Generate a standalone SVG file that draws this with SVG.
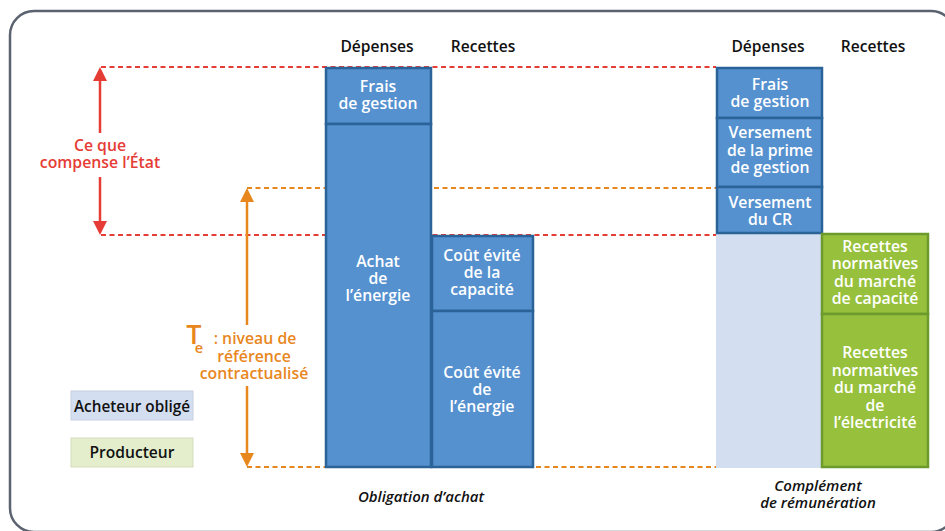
<svg xmlns="http://www.w3.org/2000/svg" width="945" height="531" viewBox="0 0 945 531">
<style>
.frame{fill:#fff;stroke:#5b6270;stroke-width:2.5}
.blue{fill:#5591cf;stroke:#2b6399;stroke-width:2.5}
.green{fill:#97c13c;stroke:#6c9a2c;stroke-width:2.5}
.light{fill:#d3def0}
text{font-family:"Open Sans","Noto Sans",sans-serif;font-weight:600;text-anchor:middle}
.wt{font-size:15.8px;fill:#fff}
.hd{font-size:15.6px;fill:#111}
.it{font-size:15px;font-style:italic;fill:#111}
.red{font-size:15.8px;fill:#e63c36}
.org{font-size:15.8px;fill:#e8871e}
.rdash{stroke:#e63c36;stroke-width:2;stroke-dasharray:5 3.5;fill:none}
.odash{stroke:#e8871e;stroke-width:2;stroke-dasharray:5 3.5;fill:none}
.rline{stroke:#e63c36;stroke-width:2.5;fill:none}
.oline{stroke:#e8871e;stroke-width:2.5;fill:none}
</style>
<rect class="frame" x="10" y="11" width="945" height="521" rx="24"/>
<g id="connectors">
<line class="rdash" x1="101" y1="67" x2="716" y2="67"/>
<line class="rdash" x1="101" y1="235" x2="716" y2="235"/>
<line class="odash" x1="247" y1="188" x2="716" y2="188"/>
<line class="odash" x1="247" y1="467" x2="716" y2="467"/>
<line class="rline" x1="100" y1="80" x2="100" y2="133"/>
<polygon points="100,67 93,81 107,81" fill="#e63c36"/>
<line class="rline" x1="100" y1="177" x2="100" y2="222"/>
<polygon points="100,235 93,221 107,221" fill="#e63c36"/>
<line class="oline" x1="247" y1="201" x2="247" y2="325"/>
<polygon points="247,188 240,202 254,202" fill="#e8871e"/>
<line class="oline" x1="247" y1="386" x2="247" y2="454"/>
<polygon points="247,467 240,453 254,453" fill="#e8871e"/>
</g>
<g id="label-etat">
<text class="red" x="100" y="151">Ce que<tspan x="100" dy="17">compense l’État</tspan></text>
</g>
<g id="label-te">
<text class="org" x="254" y="344"><tspan x="194" font-size="27">T</tspan><tspan x="199" dy="9" font-size="14.5">e</tspan><tspan x="255" dy="-9">: niveau de</tspan><tspan x="254" dy="17.5">référence</tspan><tspan x="254" dy="17">contractualisé</tspan></text>
</g>
<g id="headers">
<text class="hd" x="377" y="52">Dépenses</text>
<text class="hd" x="483" y="52">Recettes</text>
<text class="hd" x="768" y="52">Dépenses</text>
<text class="hd" x="873" y="52">Recettes</text>
</g>
<g id="oa-frais">
<rect class="blue" x="326" y="68" width="105" height="56"/>
<text class="wt" x="378" y="92">Frais<tspan x="378" dy="17">de gestion</tspan></text>
</g>
<g id="oa-achat">
<rect class="blue" x="326" y="124" width="105" height="343"/>
<text class="wt" x="378" y="267">Achat<tspan x="378" dy="17">de</tspan><tspan x="378" dy="17">l’énergie</tspan></text>
</g>
<g id="oa-capacite">
<rect class="blue" x="432" y="236" width="101" height="75"/>
<text class="wt" x="482" y="261">Coût évité<tspan x="482" dy="17">de la</tspan><tspan x="482" dy="17">capacité</tspan></text>
</g>
<g id="oa-energie">
<rect class="blue" x="432" y="311" width="101" height="156"/>
<text class="wt" x="482" y="378">Coût évité<tspan x="482" dy="17">de</tspan><tspan x="482" dy="17">l’énergie</tspan></text>
</g>
<g id="oa-title">
<text class="it" x="421" y="502">Obligation d’achat</text>
</g>
<g id="cr-light">
<rect class="light" x="716" y="233" width="106" height="235"/>
</g>
<g id="cr-frais">
<rect class="blue" x="717" y="68" width="105" height="50"/>
<text class="wt" x="770" y="90">Frais<tspan x="770" dy="17">de gestion</tspan></text>
</g>
<g id="cr-prime">
<rect class="blue" x="717" y="118" width="105" height="69"/>
<text class="wt" x="770" y="138">Versement<tspan x="770" dy="17.5">de la prime</tspan><tspan x="770" dy="17.5">de gestion</tspan></text>
</g>
<g id="cr-cr">
<rect class="blue" x="717" y="187" width="105" height="46"/>
<text class="wt" x="770" y="208">Versement<tspan x="770" dy="17">du CR</tspan></text>
</g>
<g id="cr-capacite">
<rect class="green" x="822" y="234" width="106" height="80"/>
<text class="wt" x="875" y="252">Recettes<tspan x="875" dy="17.3">normatives</tspan><tspan x="875" dy="17.3">du marché</tspan><tspan x="875" dy="17.3">de capacité</tspan></text>
</g>
<g id="cr-electricite">
<rect class="green" x="822" y="314" width="106" height="153"/>
<text class="wt" x="875" y="358">Recettes<tspan x="875" dy="17.5">normatives</tspan><tspan x="875" dy="17.5">du marché</tspan><tspan x="875" dy="17.5">de</tspan><tspan x="875" dy="17.5">l’électricité</tspan></text>
</g>
<g id="cr-title">
<text class="it" x="818" y="491">Complément<tspan x="818" dy="17">de rémunération</tspan></text>
</g>
<g id="legend-acheteur">
<rect x="71" y="391" width="122" height="29" fill="#d3def0" stroke="#c5d0e0" stroke-width="1"/>
<text class="hd" x="132" y="412" style="font-size:15.3px">Acheteur obligé</text>
</g>
<g id="legend-producteur">
<rect x="71" y="438" width="122" height="29" fill="#e4eecd" stroke="#d3ddbd" stroke-width="1"/>
<text class="hd" x="132" y="458">Producteur</text>
</g>
</svg>
